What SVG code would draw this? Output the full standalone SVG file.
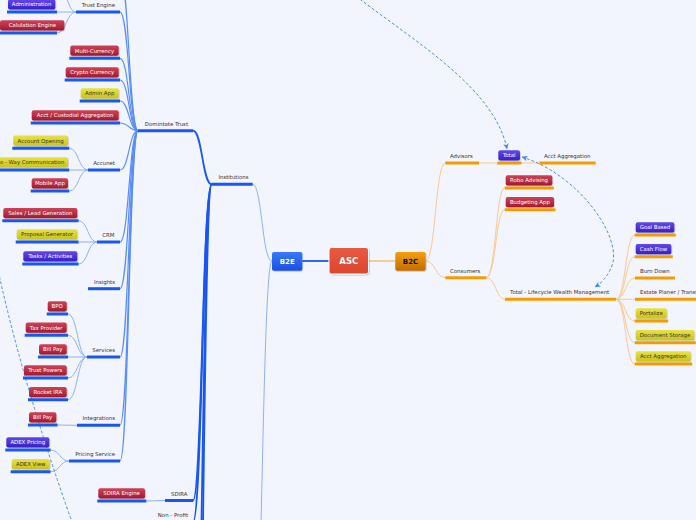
<svg xmlns="http://www.w3.org/2000/svg" width="696" height="520" viewBox="0 0 696 520">
<defs>
<linearGradient id="gR" x1="0" y1="0" x2="0" y2="1"><stop offset="0" stop-color="#cf4257"/><stop offset="1" stop-color="#a11a2f"/></linearGradient>
<linearGradient id="gY" x1="0" y1="0" x2="0" y2="1"><stop offset="0" stop-color="#e8e242"/><stop offset="1" stop-color="#cbc31c"/></linearGradient>
<linearGradient id="gP" x1="0" y1="0" x2="0" y2="1"><stop offset="0" stop-color="#6248ea"/><stop offset="1" stop-color="#3a1ec0"/></linearGradient>
<linearGradient id="gB" x1="0" y1="0" x2="0" y2="1"><stop offset="0" stop-color="#3a78fa"/><stop offset="1" stop-color="#1a4fe0"/></linearGradient>
<linearGradient id="gO" x1="0" y1="0" x2="0" y2="1"><stop offset="0" stop-color="#f59e0a"/><stop offset="1" stop-color="#c46d00"/></linearGradient>
<linearGradient id="gA" x1="0" y1="0" x2="0" y2="1"><stop offset="0" stop-color="#ec5a40"/><stop offset="1" stop-color="#d9462f"/></linearGradient>
<marker id="arr" viewBox="0 0 6 6" refX="5.5" refY="3" markerWidth="6" markerHeight="6" markerUnits="userSpaceOnUse" orient="auto-start-reverse"><path d="M0,0.3 L6,3 L0,5.7 L1.6,3 z" fill="#3f8ae4"/></marker>
<filter id="sh" x="-20%" y="-20%" width="140%" height="160%"><feDropShadow dx="0.6" dy="0.8" stdDeviation="0.6" flood-color="#000" flood-opacity="0.25"/></filter>
</defs>
<style>
.t{font-family:"DejaVu Sans",Verdana,sans-serif;font-size:5.4px;fill:#333}
.w{fill:#fff}
.m{text-anchor:middle}
.e{text-anchor:end}
.ul{stroke:#1a56f0;stroke-width:3;fill:none}
.uo{stroke:#f59b00;stroke-width:3;fill:none}
.r{fill:url(#gR);filter:url(#sh)}
.y{fill:url(#gY);filter:url(#sh)}
.p{fill:url(#gP);filter:url(#sh)}
.c1{stroke:#1a56f0;stroke-width:1.8;fill:none}
.c2{stroke:#5a8ef5;stroke-width:1.2;fill:none}
.c3{stroke:#8db0f8;stroke-width:1;fill:none}
.o1{stroke:#f6b25e;stroke-width:1.2;fill:none}
.o2{stroke:#f9c891;stroke-width:1;fill:none}
.d{stroke:#4a90e2;stroke-width:1;stroke-dasharray:3 2;fill:none}
</style>
<rect width="696" height="520" fill="#f2f5fd"/>

<g id="connectors">
<path class="c1" d="M302.3,261 L329,261"/>
<path class="o1" d="M368.7,261 L395.3,261"/>
<path class="c3" d="M272,261 C262,261 262,184.3 252.7,184.3"/>
<path class="c3" d="M272,261 C262,261 262,700 252,700"/>
<path class="c1" d="M211.7,184.3 C202.3,184.3 202.3,130.7 193,130.7"/>
<path class="c1" d="M211.7,184.3 C202.3,184.3 202.3,500.5 193,500.5"/>
<path class="c1" d="M211.7,184.3 C202.3,184.3 202.3,522 193,522"/>
<path class="c1" d="M211.7,184.3 C202.3,184.3 202.3,760 193,760"/>
<path class="c1" d="M211.7,184.3 C202.3,184.3 202.3,980 193,980"/>
<path class="c2" d="M120,-25 C129,-25 129,130.7 138,130.7"/>
<path class="c2" d="M120,12 C129,12 129,130.7 138,130.7"/>
<path class="c2" d="M120,58.3 C129,58.3 129,130.7 138,130.7"/>
<path class="c2" d="M120,80 C129,80 129,130.7 138,130.7"/>
<path class="c2" d="M120,101 C129,101 129,130.7 138,130.7"/>
<path class="c2" d="M120,123 C129,123 129,130.7 138,130.7"/>
<path class="c2" d="M120,170 C129,170 129,130.7 138,130.7"/>
<path class="c2" d="M120,242 C129,242 129,130.7 138,130.7"/>
<path class="c2" d="M120,288.7 C129,288.7 129,130.7 138,130.7"/>
<path class="c2" d="M120,357 C129,357 129,130.7 138,130.7"/>
<path class="c2" d="M120,425.3 C129,425.3 129,130.7 138,130.7"/>
<path class="c2" d="M120,461 C129,461 129,130.7 138,130.7"/>
<path class="c3" d="M57,-18 C66.5,-18 66.5,12 76,12"/>
<path class="c3" d="M57,12 L76,12"/>
<path class="c3" d="M57,33 C66.5,33 66.5,12 76,12"/>
<path class="c3" d="M69.3,148.3 C78.6,148.3 78.6,170 88,170"/>
<path class="c3" d="M69.3,170 L88,170"/>
<path class="c3" d="M69.3,191 C78.6,191 78.6,170 88,170"/>
<path class="c3" d="M78.6,220.7 C87.8,220.7 87.8,242 97,242"/>
<path class="c3" d="M78.6,242 L97,242"/>
<path class="c3" d="M78.6,264 C87.8,264 87.8,242 97,242"/>
<path class="c3" d="M68,314 C77.5,314 77.5,357 87,357"/>
<path class="c3" d="M68,335.3 C77.5,335.3 77.5,357 87,357"/>
<path class="c3" d="M68,357 L87,357"/>
<path class="c3" d="M68,378 C77.5,378 77.5,357 87,357"/>
<path class="c3" d="M68,399.7 C77.5,399.7 77.5,357 87,357"/>
<path class="c3" d="M57.6,425 L77,425.3"/>
<path class="c3" d="M50.6,450 C59.8,450 59.8,461 69,461"/>
<path class="c3" d="M50.6,471.7 C59.8,471.7 59.8,461 69,461"/>
<path class="c3" d="M146.3,501 L165,500.5"/>
<path class="o2" d="M425.7,261 C435.5,261 435.5,163 445.3,163"/>
<path class="o2" d="M425.7,261 C435.5,261 435.5,277.7 445.3,277.7"/>
<path class="o2" d="M479,163 L497.3,163"/>
<path class="o2" d="M521.5,163 L539.3,163"/>
<path class="o2" d="M486.3,277.7 C495.8,277.7 495.8,188 504.7,188"/>
<path class="o2" d="M486.3,277.7 C495.8,277.7 495.8,209.7 504.7,209.7"/>
<path class="o2" d="M486.3,277.7 C495.8,277.7 495.8,299.3 505,299.3"/>
<path class="o2" d="M616,299.3 C625.5,299.3 625.5,235 634.7,235"/>
<path class="o2" d="M616,299.3 C625.5,299.3 625.5,256.7 634.7,256.7"/>
<path class="o2" d="M616,299.3 C625.5,299.3 625.5,278 635,278"/>
<path class="o2" d="M616,299.3 L635,299.3"/>
<path class="o2" d="M616,299.3 C625.5,299.3 625.5,321 634.7,321"/>
<path class="o2" d="M616,299.3 C625.5,299.3 625.5,342.7 634.7,342.7"/>
<path class="o2" d="M616,299.3 C625.5,299.3 625.5,364 634.7,364"/>
<path class="d" d="M340,-16 L361,0 C420,45 495,90 507,149" marker-end="url(#arr)"/>
<path class="d" d="M522,157 C580,175 625,240 611,268 Q605,281 595,287" marker-start="url(#arr)" marker-end="url(#arr)"/>
<path class="d" d="M-4,262 L0,279 Q25,390 72,522"/>
</g>

<g id="asc"><rect x="329" y="247.5" width="39.5" height="26.5" rx="2.5" fill="url(#gA)" stroke="#fff" stroke-width="1" filter="url(#sh)"/><text class="t w m" x="348.8" y="264.2" style="font-size:8.5px;font-weight:bold">ASC</text></g>
<g id="b2e"><rect x="272" y="252" width="30.3" height="18.7" rx="2" fill="url(#gB)" filter="url(#sh)"/><text class="t w m" x="287.2" y="263.6" style="font-size:7px;font-weight:bold">B2E</text></g>
<g id="b2c"><rect x="395.3" y="252" width="30.4" height="18.7" rx="2" fill="url(#gO)" filter="url(#sh)"/><text class="t m" x="410.5" y="263.6" style="font-size:7px;font-weight:bold;fill:#111">B2C</text></g>

<g id="institutions"><line class="ul" x1="211.7" y1="184.3" x2="252.7" y2="184.3"/><text class="t e" x="248.5" y="179.3">Institutions</text></g>
<g id="dominate-trust"><line class="ul" x1="138" y1="130.7" x2="193" y2="130.7"/><text class="t e" x="188" y="125.7">Domintate Trust</text></g>
<g id="sdira"><line class="ul" x1="165" y1="500.5" x2="193" y2="500.5"/><text class="t e" x="187.5" y="495.5">SDIRA</text></g>
<g id="non-profit"><line class="ul" x1="151" y1="522" x2="193" y2="522"/><text class="t e" x="188" y="517">Non - Profit</text></g>
<g id="sdira-engine"><rect class="r" x="98.3" y="488.3" width="46.7" height="10.2" rx="2"/><line class="ul" x1="97.3" y1="501" x2="146.3" y2="501"/><text class="t w m" x="121.6" y="495.4">SDIRA Engine</text></g>

<g id="trust-engine"><line class="ul" x1="76" y1="12" x2="120" y2="12"/><text class="t e" x="115" y="7">Trust Engine</text></g>
<g id="administration"><rect class="p" x="8" y="-0.7" width="47.3" height="10.2" rx="2"/><line class="ul" x1="7" y1="12" x2="57" y2="12"/><text class="t w m" x="31.6" y="6.4">Administration</text></g>
<g id="calc-engine"><rect class="r" x="0" y="20.3" width="64.3" height="10.2" rx="2"/><line class="ul" x1="-1" y1="33" x2="57" y2="33"/><text class="t w m" x="32.5" y="27.4">Calulation Engine</text></g>
<g id="multi-currency"><rect class="r" x="70.3" y="45.6" width="48.4" height="10.2" rx="2"/><line class="ul" x1="69.3" y1="58.3" x2="120" y2="58.3"/><text class="t w m" x="94.5" y="52.7">Multi-Currency</text></g>
<g id="crypto"><rect class="r" x="65.7" y="67.3" width="53" height="10.2" rx="2"/><line class="ul" x1="64.7" y1="80" x2="120" y2="80"/><text class="t w m" x="92.2" y="74.4">Crypto Currency</text></g>
<g id="admin-app"><rect class="y" x="80.7" y="88.3" width="38" height="10.2" rx="2"/><line class="ul" x1="79.7" y1="101" x2="120" y2="101"/><text class="t m" x="99.7" y="95.4">Admin App</text></g>
<g id="acct-custodial"><rect class="r" x="31.7" y="110.3" width="87" height="10.2" rx="2"/><line class="ul" x1="30.7" y1="123" x2="120" y2="123"/><text class="t w m" x="75.2" y="117.4">Acct / Custodial Aggregation</text></g>
<g id="accunet"><line class="ul" x1="88" y1="170" x2="120" y2="170"/><text class="t e" x="115" y="165">Accunet</text></g>
<g id="account-opening"><rect class="y" x="13.3" y="135.6" width="54.7" height="10.2" rx="2"/><line class="ul" x1="12.3" y1="148.3" x2="69.3" y2="148.3"/><text class="t m" x="40.7" y="142.7">Account Opening</text></g>
<g id="two-way"><rect class="y" x="-12" y="157.3" width="80" height="10.2" rx="2"/><line class="ul" x1="-13" y1="170" x2="69.3" y2="170"/><text class="t e" x="64.3" y="164.4">Two - Way Communication</text></g>
<g id="mobile-app"><rect class="r" x="31.7" y="178.3" width="36.3" height="10.2" rx="2"/><line class="ul" x1="30.7" y1="191" x2="69.3" y2="191"/><text class="t w m" x="49.9" y="185.4">Mobile App</text></g>
<g id="crm"><line class="ul" x1="97" y1="242" x2="120" y2="242"/><text class="t e" x="114.5" y="237">CRM</text></g>
<g id="sales-lead"><rect class="r" x="3.3" y="208" width="74" height="10.2" rx="2"/><line class="ul" x1="2.3" y1="220.7" x2="78.6" y2="220.7"/><text class="t w m" x="40.3" y="215.1">Sales / Lead Generation</text></g>
<g id="proposal"><rect class="y" x="16.7" y="229.3" width="60.6" height="10.2" rx="2"/><line class="ul" x1="15.7" y1="242" x2="78.6" y2="242"/><text class="t m" x="47" y="236.4">Proposal Generator</text></g>
<g id="tasks"><rect class="p" x="23.3" y="251.3" width="54" height="10.2" rx="2"/><line class="ul" x1="22.3" y1="264" x2="78.6" y2="264"/><text class="t w m" x="50.3" y="258.4">Tasks / Activities</text></g>
<g id="insights"><line class="ul" x1="88" y1="288.7" x2="120" y2="288.7"/><text class="t e" x="115" y="283.7">Insights</text></g>
<g id="services"><line class="ul" x1="87" y1="357" x2="120" y2="357"/><text class="t e" x="115" y="352">Services</text></g>
<g id="bpo"><rect class="r" x="47.7" y="301.3" width="19" height="10.2" rx="2"/><line class="ul" x1="46.7" y1="314" x2="68" y2="314"/><text class="t w m" x="57.2" y="308.4">BPO</text></g>
<g id="tax-provider"><rect class="r" x="25.7" y="322.6" width="41" height="10.2" rx="2"/><line class="ul" x1="24.7" y1="335.3" x2="68" y2="335.3"/><text class="t w m" x="46.2" y="329.7">Tax Provider</text></g>
<g id="bill-pay-1"><rect class="r" x="39" y="344.3" width="27.7" height="10.2" rx="2"/><line class="ul" x1="38" y1="357" x2="68" y2="357"/><text class="t w m" x="52.8" y="351.4">Bill Pay</text></g>
<g id="trust-powers"><rect class="r" x="24" y="365.3" width="42.7" height="10.2" rx="2"/><line class="ul" x1="23" y1="378" x2="68" y2="378"/><text class="t w m" x="45.3" y="372.4">Trust Powers</text></g>
<g id="rocket-ira"><rect class="r" x="29" y="387" width="37.7" height="10.2" rx="2"/><line class="ul" x1="28" y1="399.7" x2="68" y2="399.7"/><text class="t w m" x="47.8" y="394.1">Rocket IRA</text></g>
<g id="integrations"><line class="ul" x1="77" y1="425.3" x2="120" y2="425.3"/><text class="t e" x="115" y="420.3">Integrations</text></g>
<g id="bill-pay-2"><rect class="r" x="29" y="412.3" width="27.3" height="10.2" rx="2"/><line class="ul" x1="28" y1="425" x2="57.6" y2="425"/><text class="t w m" x="42.6" y="419.4">Bill Pay</text></g>
<g id="pricing-service"><line class="ul" x1="69" y1="461" x2="120" y2="461"/><text class="t e" x="115" y="456">Pricing Service</text></g>
<g id="adex-pricing"><rect class="p" x="6.3" y="437.3" width="43" height="10.2" rx="2"/><line class="ul" x1="5.3" y1="450" x2="50.6" y2="450"/><text class="t w m" x="27.8" y="444.4">ADEX Pricing</text></g>
<g id="adex-view"><rect class="y" x="11.7" y="459" width="38" height="10.2" rx="2"/><line class="ul" x1="10.7" y1="471.7" x2="50.6" y2="471.7"/><text class="t m" x="30.7" y="466.1">ADEX View</text></g>

<g id="advisors"><line class="uo" x1="445.3" y1="163" x2="479" y2="163"/><text class="t" x="450" y="158">Advisors</text></g>
<g id="total"><rect class="p" x="498.3" y="150.3" width="21.7" height="10.2" rx="2"/><line class="uo" x1="497.3" y1="163" x2="521.5" y2="163"/><text class="t w m" x="509.2" y="157.4">Total</text></g>
<g id="acct-aggregation-1"><line class="uo" x1="539.3" y1="163" x2="595.7" y2="163"/><text class="t" x="544" y="158">Acct Aggregation</text></g>
<g id="consumers"><line class="uo" x1="445.3" y1="277.7" x2="486.3" y2="277.7"/><text class="t" x="450" y="272.7">Consumers</text></g>
<g id="robo"><rect class="r" x="505.7" y="175.3" width="46.6" height="10.2" rx="2"/><line class="uo" x1="504.7" y1="188" x2="553.8" y2="188"/><text class="t w m" x="529" y="182.4">Robo Advising</text></g>
<g id="budgeting"><rect class="r" x="505.7" y="197" width="48.3" height="10.2" rx="2"/><line class="uo" x1="504.7" y1="209.7" x2="555.5" y2="209.7"/><text class="t w m" x="529.9" y="204.1">Budgeting App</text></g>
<g id="total-lwm"><line class="uo" x1="505" y1="299.3" x2="616" y2="299.3"/><text class="t" x="510" y="294.3">Total - Lifecycle Wealth Management</text></g>
<g id="goal-based"><rect class="p" x="635.7" y="222.3" width="38.6" height="10.2" rx="2"/><line class="uo" x1="634.7" y1="235" x2="675.8" y2="235"/><text class="t w m" x="655" y="229.4">Goal Based</text></g>
<g id="cash-flow"><rect class="p" x="635.7" y="244" width="35.6" height="10.2" rx="2"/><line class="uo" x1="634.7" y1="256.7" x2="672.8" y2="256.7"/><text class="t w m" x="653.5" y="251.1">Cash Flow</text></g>
<g id="burn-down"><line class="uo" x1="635" y1="278" x2="675" y2="278"/><text class="t" x="640" y="273">Burn Down</text></g>
<g id="estate"><line class="uo" x1="635" y1="299.3" x2="720" y2="299.3"/><text class="t" x="640" y="294.3">Estate Planer / Transfer</text></g>
<g id="portalize"><rect class="y" x="635.7" y="308.3" width="31" height="10.2" rx="2"/><line class="uo" x1="634.7" y1="321" x2="668.2" y2="321"/><text class="t m" x="651.2" y="315.4">Portalize</text></g>
<g id="document-storage"><rect class="y" x="635.7" y="330" width="58.6" height="10.2" rx="2"/><line class="uo" x1="634.7" y1="342.7" x2="695.8" y2="342.7"/><text class="t m" x="665" y="337.1">Document Storage</text></g>
<g id="acct-aggregation-2"><rect class="y" x="635.7" y="351.3" width="55" height="10.2" rx="2"/><line class="uo" x1="634.7" y1="364" x2="692.2" y2="364"/><text class="t m" x="663.2" y="358.4">Acct Aggregation</text></g>
</svg>
